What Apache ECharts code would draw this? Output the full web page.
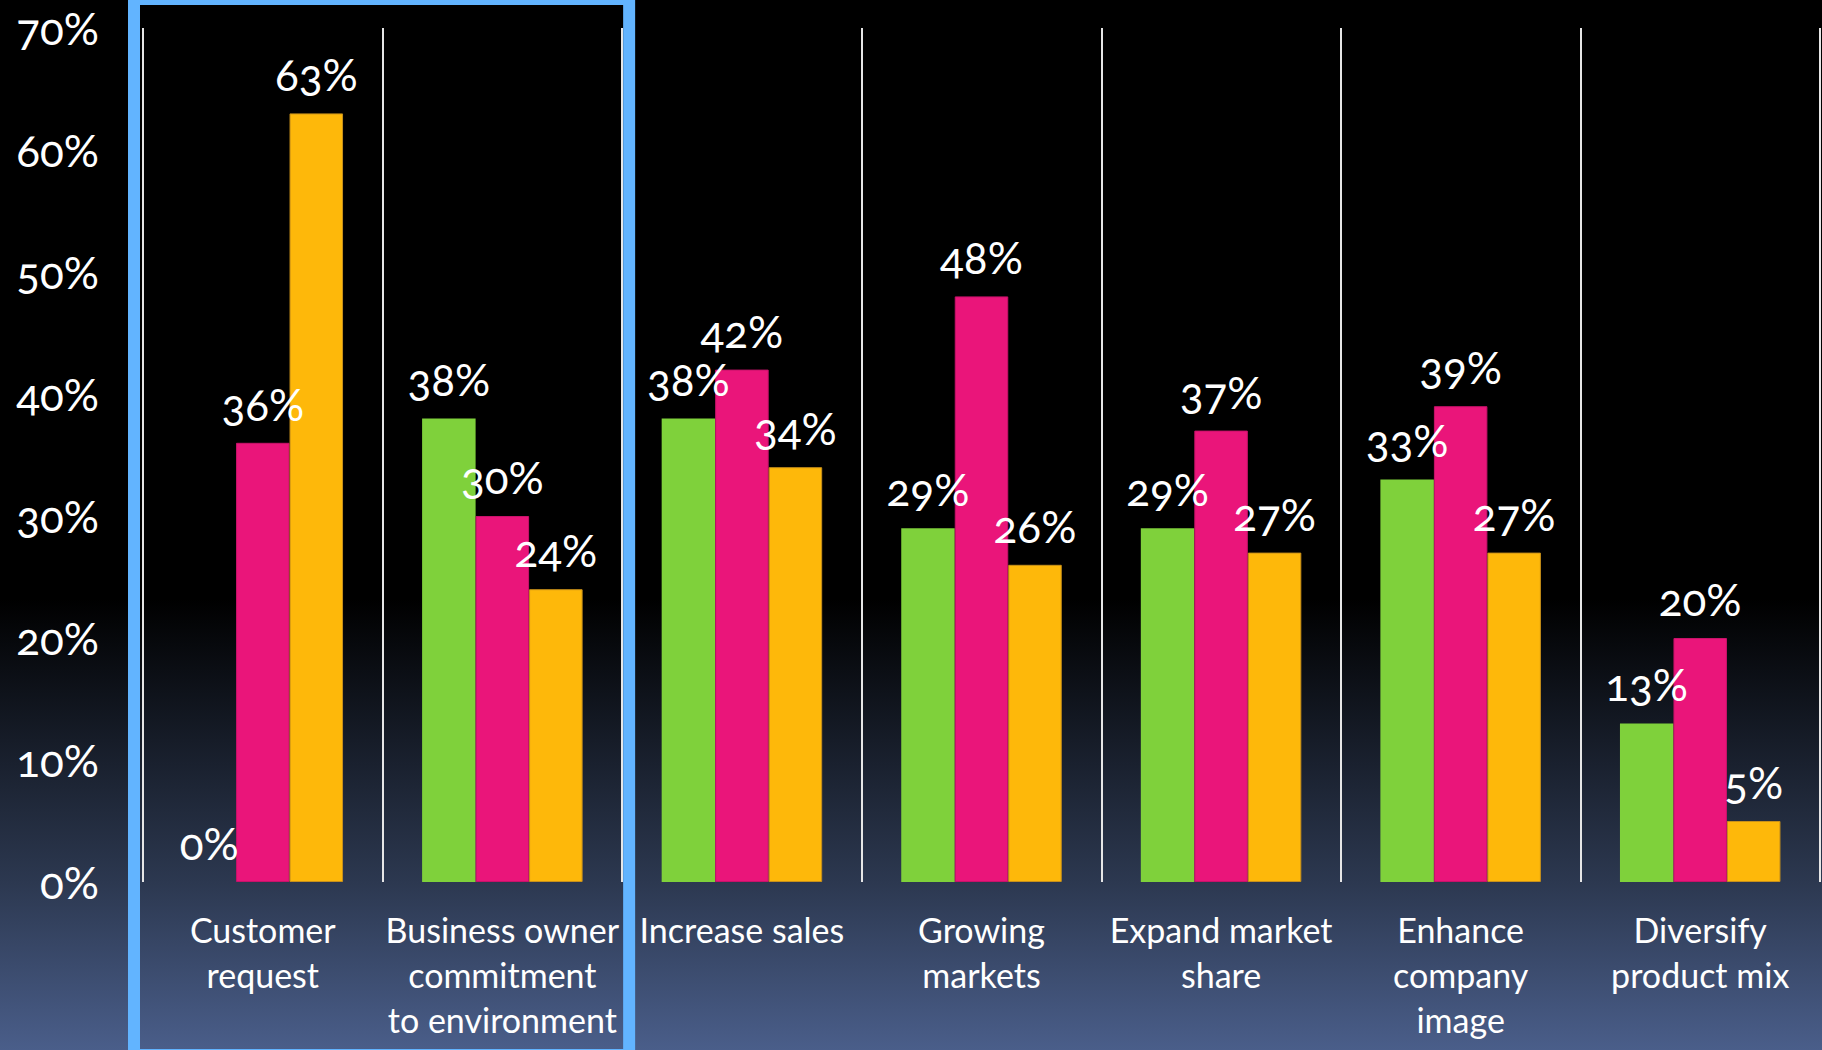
<!DOCTYPE html>
<html>
<head>
<meta charset="utf-8">
<title>Reasons for adoption</title>
<script src="https://cdn.jsdelivr.net/npm/echarts@6/dist/echarts.min.js"></script>
<style>
  html, body { margin: 0; padding: 0; background: #000; }
  #chart { width: 1822px; height: 1050px; }
  #chart text { font-feature-settings: "onum" 1 !important; }
</style>
</head>
<body>
<div id="chart"></div>
<script>
// Categories along the x axis (line breaks as shown under each group)
const categories = [
  'Customer\nrequest',
  'Business owner\ncommitment\nto environment',
  'Increase sales',
  'Growing\nmarkets',
  'Expand market\nshare',
  'Enhance\ncompany\nimage',
  'Diversify\nproduct mix'
];

// Percentages per group, one array per series
const greenValues  = [0, 38, 38, 29, 29, 33, 13];
const pinkValues   = [36, 30, 42, 48, 37, 39, 20];
const orangeValues = [63, 24, 34, 26, 27, 27, 5];

// Value axis ticks
const yTicks = [0, 10, 20, 30, 40, 50, 60, 70];

const FONT = 'Lato';
const chart = echarts.init(document.getElementById('chart'), null, { renderer: 'svg' });

function barSeries(name, data, color, border) {
  return {
    name: name,
    type: 'bar',
    data: data,
    barGap: '0%',
    barCategoryGap: '33%',
    itemStyle: { color: color, borderColor: border, borderWidth: border ? 1 : 0 },
    label: {
      show: true,
      position: 'top',
      distance: 17,
      color: '#ffffff',
      fontFamily: FONT,
      fontSize: 44,
      formatter: p => p.value + '%'
    },
    z: 3
  };
}

chart.setOption({
  backgroundColor: {
    type: 'linear', x: 0, y: 0, x2: 0, y2: 1,
    colorStops: [
      { offset: 0, color: '#000000' },
      { offset: 0.57, color: '#000000' },
      { offset: 0.84, color: '#2c3850' },
      { offset: 1, color: '#4a5e8a' }
    ]
  },
  animation: false,
  grid: { left: 143, right: 2, top: 28, bottom: 168 },
  xAxis: {
    type: 'category',
    data: categories,
    axisLine: { show: false },
    axisTick: { show: false },
    splitLine: { show: true, interval: 0, lineStyle: { color: '#e6e6e6', width: 2 } },
    axisLabel: {
      interval: 0,
      margin: 25,
      color: '#ffffff',
      fontFamily: FONT,
      fontSize: 34,
      lineHeight: 45,
      align: 'center'
    }
  },
  yAxis: {
    type: 'value',
    min: yTicks[0],
    max: yTicks[yTicks.length - 1],
    interval: 10,
    axisLine: { show: false },
    axisTick: { show: false },
    splitLine: { show: false },
    axisLabel: {
      margin: 44,
      color: '#ffffff',
      fontFamily: FONT,
      fontSize: 44,
      formatter: v => v + '%'
    }
  },
  series: [
    barSeries('Green', greenValues, '#7fd13b', null),
    barSeries('Pink', pinkValues, '#ea157a', '#c8126a'),
    barSeries('Orange', orangeValues, '#feb80a', '#c8901a')
  ]
});

// Highlight frame around the first two groups, placed from the axis scale
const left0 = chart.convertToPixel({ xAxisIndex: 0 }, 0);
const left1 = chart.convertToPixel({ xAxisIndex: 0 }, 1);
const band = left1 - left0;
const frameLeft = left0 - band / 2 - 9;
const frameRight = left1 + band / 2 + 7;
chart.setOption({
  graphic: [{
    type: 'rect',
    z: 100,
    shape: { x: frameLeft, y: -1, width: frameRight - frameLeft, height: 1056 },
    style: { fill: 'none', stroke: '#62b4ff', lineWidth: 12 }
  }]
});
</script>
</body>
</html>
